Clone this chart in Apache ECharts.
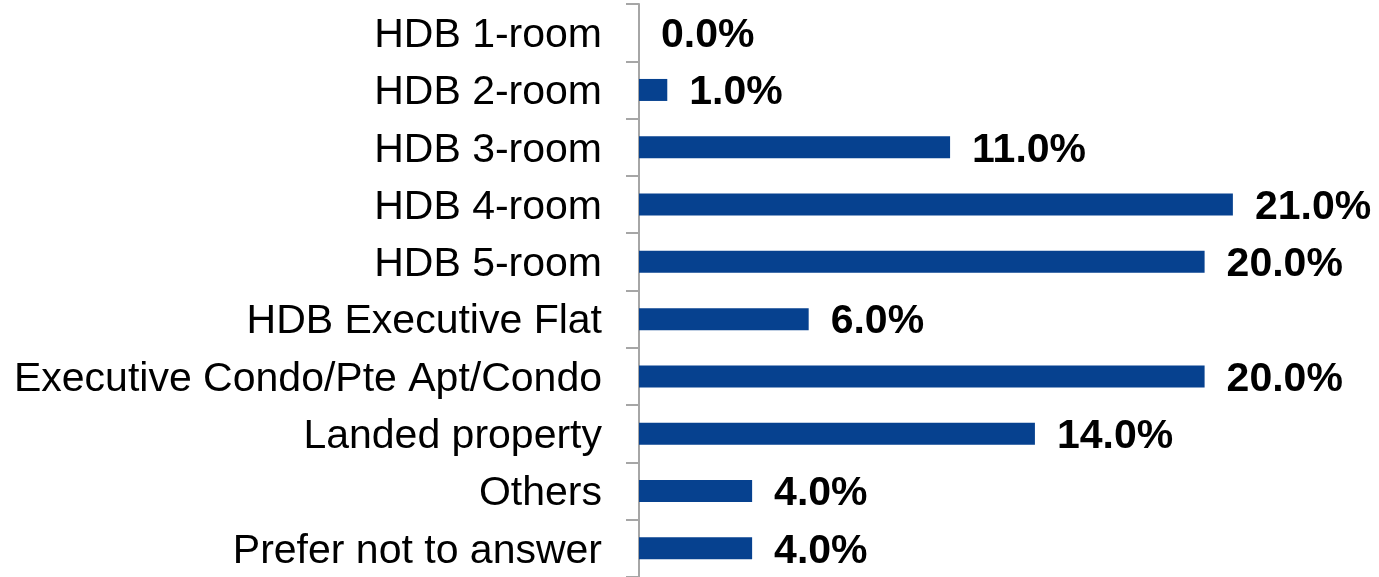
<!DOCTYPE html>
<html>
<head>
<meta charset="utf-8">
<script src="https://cdn.jsdelivr.net/npm/echarts@6/dist/echarts.min.js"></script>
<style>
  html, body { margin: 0; padding: 0; background: #fff; }
  #chart { width: 1379px; height: 577px; }
</style>
</head>
<body>
<div id="chart"></div>
<script>
var categories = ['HDB 1-room', 'HDB 2-room', 'HDB 3-room', 'HDB 4-room', 'HDB 5-room',
    'HDB Executive Flat', 'Executive Condo/Pte Apt/Condo', 'Landed property', 'Others',
    'Prefer not to answer'];
var shares = [0, 1, 11, 21, 20, 6, 20, 14, 4, 4];

var chart = echarts.init(document.getElementById('chart'));
var option = {
    animation: false,
    textStyle: { fontFamily: 'Liberation Sans, Arial, sans-serif' },
    grid: {
        left: 639,
        top: 4,
        width: 707,
        height: 575
    },
    xAxis: {
        type: 'value',
        min: 0,
        max: 25,
        show: false
    },
    yAxis: {
        type: 'category',
        inverse: true,
        data: categories,
        axisLine: { lineStyle: { color: '#a6a6a6', width: 2 } },
        axisTick: { show: true, length: 13, lineStyle: { color: '#a6a6a6', width: 2 } },
        axisLabel: {
            margin: 37,
            color: '#000',
            fontSize: 41,
            verticalAlign: 'top',
            lineHeight: 6,
            fontFamily: 'Liberation Sans, Arial, sans-serif'
        }
    },
    series: [{
        type: 'bar',
        data: shares,
        barWidth: 22,
        itemStyle: { color: '#06418f' },
        label: {
            show: true,
            position: 'right',
            distance: 22,
            color: '#000',
            fontSize: 41,
            fontWeight: 'bold',
            verticalAlign: 'top',
            lineHeight: 6,
            fontFamily: 'Liberation Sans, Arial, sans-serif',
            formatter: function(p) {
                return p.value.toFixed(1) + '%';
            }
        }
    }]
};
chart.setOption(option);
</script>
</body>
</html>
